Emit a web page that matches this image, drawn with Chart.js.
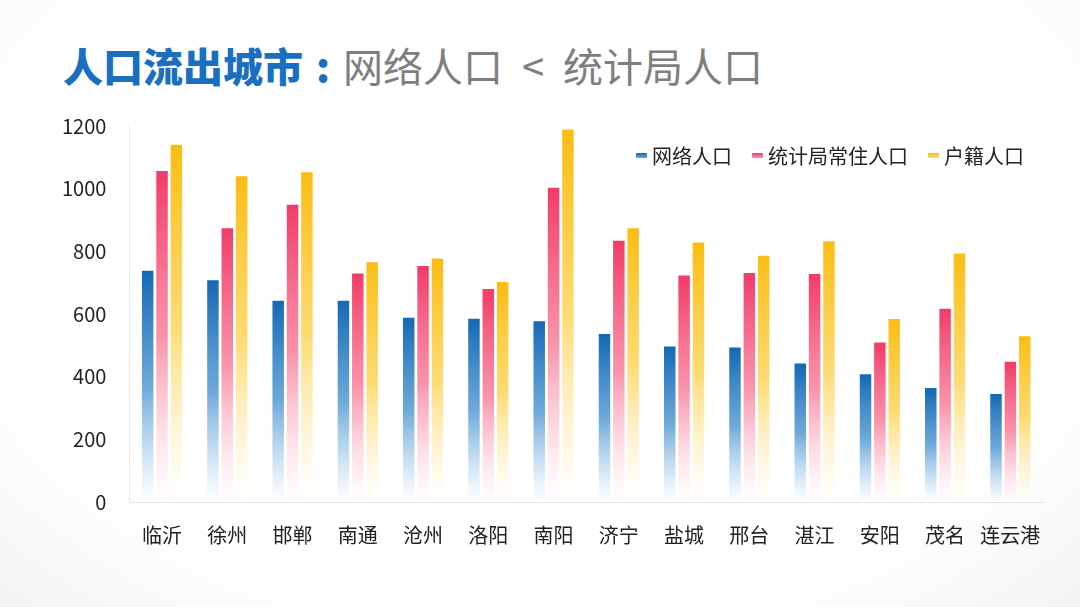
<!DOCTYPE html>
<html>
<head>
<meta charset="utf-8">
<script src="https://cdn.jsdelivr.net/npm/chart.js@4.4.1/dist/chart.umd.min.js"></script>
<style>
  html, body { margin: 0; padding: 0; background: #fff; }
  #wrap { position: relative; width: 1080px; height: 607px; overflow: hidden;
    background: radial-gradient(ellipse at 50% 40%, #ffffff 72%, #f4f4f4 100%); }
  #title { position: absolute; left: 63px; top: 45px; font-family: "Noto Sans CJK SC", sans-serif;
    font-size: 40px; line-height: 40px; white-space: nowrap; }
  #title .a { color: #1a6fc1; font-weight: 900; }
  #title .b { color: #7f7f7f; font-weight: 400; }
  #title .colon { display: inline-block; width: 40px; text-align: center; }
  #title .lt { display: inline-block; width: 60px; text-align: center; }
  #chartBox { position: absolute; left: 0; top: 0; width: 1080px; height: 607px; }
  #legend { position: absolute; left: 636px; top: 141px; display: flex; align-items: center;
    font-family: "Noto Sans CJK SC", sans-serif; font-size: 20px; color: #222; white-space: nowrap; }
  #legend .item { display: flex; align-items: center; margin-right: 20px; }
  #legend .mark { width: 11px; height: 5px; margin-right: 5px; border-radius: 1px; }
</style>
</head>
<body>
<div id="wrap">
  <div id="title"><span class="a">人口流出城市<span class="colon">:</span></span><span class="b">网络人口<span class="lt">&lt;</span>统计局人口</span></div>
  <div id="chartBox"><canvas id="chart"></canvas></div>
  <div id="legend"></div>
</div>
<script>
// Data
const cities = ['临沂', '徐州', '邯郸', '南通', '沧州', '洛阳', '南阳', '济宁', '盐城', '邢台', '湛江', '安阳', '茂名', '连云港'];
const netPop = [738, 708, 642, 642, 588, 585, 577, 536, 496, 493, 442, 408, 364, 345];
const statPop = [1056, 874, 949, 729, 753, 680, 1003, 834, 723, 731, 728, 509, 617, 448];
const hukouPop = [1140, 1040, 1052, 765, 777, 702, 1189, 874, 828, 786, 832, 584, 793, 529];
const seriesNames = ['网络人口', '统计局常住人口', '户籍人口'];
const yTicks = [0, 200, 400, 600, 800, 1000, 1200];

const palette = [
  { top: '#1468b5', mid: 'rgba(60,140,205,0.75)', bottom: 'rgba(120,180,230,0)' },
  { top: '#f23b68', mid: 'rgba(248,120,150,0.8)', bottom: 'rgba(255,190,205,0)' },
  { top: '#fbbd12', mid: 'rgba(253,210,80,0.8)', bottom: 'rgba(255,235,170,0)' }
];

function barGradient(idx) {
  return function(context) {
    const chart = context.chart;
    if (!chart.chartArea || context.type !== 'data') return palette[idx].top;
    const yScale = chart.scales.y;
    const top = yScale.getPixelForValue(context.parsed.y);
    const bottom = yScale.getPixelForValue(0);
    const g = chart.ctx.createLinearGradient(0, top, 0, bottom);
    g.addColorStop(0, palette[idx].top);
    g.addColorStop(0.5, palette[idx].mid);
    g.addColorStop(1, palette[idx].bottom);
    return g;
  };
}

// legend drawn as html so it can sit inside the plot area, top right
const legendEl = document.getElementById('legend');
seriesNames.forEach((name, i) => {
  const item = document.createElement('div');
  item.className = 'item';
  item.innerHTML = '<span class="mark" style="background:linear-gradient(' + palette[i].top + ',' + palette[i].mid + ')"></span>' + name;
  legendEl.appendChild(item);
});

const cjk = '"Noto Sans CJK SC", "Noto Sans", sans-serif';

new Chart(document.getElementById('chart'), {
  type: 'bar',
  data: {
    labels: cities,
    datasets: [netPop, statPop, hukouPop].map((values, i) => ({
      label: seriesNames[i],
      data: values,
      backgroundColor: barGradient(i),
      borderWidth: 0,
      categoryPercentage: 0.66,
      barPercentage: 0.8
    }))
  },
  options: {
    responsive: true,
    maintainAspectRatio: false,
    animation: false,
    layout: { padding: { left: 47, top: 126, right: 37, bottom: 47 } },
    plugins: {
      title: { display: false },
      tooltip: { enabled: false },
      legend: { display: false }
    },
    scales: {
      x: {
        grid: { display: false },
        border: { display: true, color: '#e4e4e4', width: 1 },
        ticks: {
          color: '#222',
          padding: 13,
          autoSkip: false,
          maxRotation: 0,
          minRotation: 0,
          font: { family: cjk, size: 20 }
        }
      },
      y: {
        min: 0,
        max: 1200,
        afterBuildTicks: function(axis) { axis.ticks = yTicks.map(v => ({ value: v })); },
        grid: { display: false },
        border: { display: true, color: '#ececec', width: 1 },
        ticks: {
          color: '#222',
          padding: 15,
          font: { family: cjk, size: 20 },
          callback: function(value) { return String(value); }
        }
      }
    }
  }
});
</script>
</body>
</html>
